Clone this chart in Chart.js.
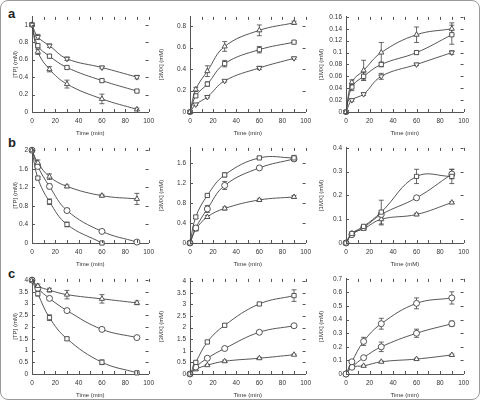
<!DOCTYPE html>
<html>
<head>
<meta charset="utf-8">
<script src="https://cdn.jsdelivr.net/npm/chart.js@4.4.1/dist/chart.umd.min.js"></script>
<style>
  html, body { margin: 0; padding: 0; background: #fff; }
  #fig { position: relative; width: 480px; height: 400px; overflow: hidden; }
  #frame { position: absolute; left: 0; top: 0; width: 478px; height: 398px; border: 1px solid #9a9a9a; border-radius: 8px; }
  canvas { position: absolute; }
  .lab { position: absolute; font: bold 13px "Liberation Sans", Arial, sans-serif; color: #222; }
</style>
</head>
<body>
<div id="fig">
  <div id="frame"></div>
  <div class="lab" style="left:8px;top:6px">a</div>
  <div class="lab" style="left:8px;top:135px">b</div>
  <div class="lab" style="left:8px;top:266px">c</div>
</div>
<script>
// 共通の時間軸 (min)
const times = [0, 5, 15, 30, 60, 90];

// a: [TP] / [3MX] / [1MX]
const aTP_dn = [1, 0.86, 0.76, 0.61, 0.51, 0.40];
const aTP_sq = [1, 0.76, 0.64, 0.51, 0.36, 0.24];
const aTP_up = [1, 0.69, 0.49, 0.32, 0.15, 0.03];
const aTP_dnErr = [0, 0.03, 0.02, 0.02, 0.015, 0.02];
const aTP_sqErr = [0, 0.02, 0.02, 0.015, 0.015, 0.015];
const aTP_upErr = [0, 0.03, 0.03, 0.045, 0.055, 0.015];

const a3MX_up = [0, 0.21, 0.38, 0.61, 0.76, 0.83];
const a3MX_sq = [0, 0.15, 0.26, 0.45, 0.58, 0.65];
const a3MX_dn = [0, 0.07, 0.14, 0.29, 0.41, 0.50];
const a3MX_upErr = [0, 0.02, 0.05, 0.045, 0.05, 0.015];
const a3MX_sqErr = [0, 0.015, 0.02, 0.03, 0.03, 0.01];
const a3MX_dnErr = [0, 0.01, 0.01, 0.01, 0.015, 0.01];

const a1MX_up = [0, 0.05, 0.07, 0.10, 0.13, 0.14];
const a1MX_sq = [0, 0.042, 0.06, 0.08, 0.10, 0.13];
const a1MX_dn = [0, 0.02, 0.03, 0.06, 0.08, 0.10];
const a1MX_upErr = [0, 0.004, 0.017, 0.017, 0.013, 0.01];
const a1MX_sqErr = [0, 0.006, 0.006, 0.004, 0.003, 0.016];
const a1MX_dnErr = [0, 0.002, 0.002, 0.005, 0.002, 0.003];

// b
const bTP_up = [2, 1.73, 1.43, 1.22, 1.02, 0.95];
const bTP_ci = [2, 1.65, 1.22, 0.70, 0.25, 0.02];
const bTP_sq = [2, 1.40, 0.89, 0.40, 0.00, null];
const bTP_upErr = [0, 0.06, 0.06, 0.03, 0.03, 0.12];
const bTP_ciErr = [0, 0.03, 0.05, 0.04, 0.02, 0.02];
const bTP_sqErr = [0, 0.03, 0.06, 0.05, 0.02, 0];

const b3MX_sq = [0, 0.52, 0.95, 1.36, 1.70, 1.70];
const b3MX_ci = [0, 0.30, 0.68, 1.15, 1.50, 1.68];
const b3MX_up = [0, 0.27, 0.52, 0.69, 0.86, 0.92];
const b3MX_sqErr = [0, 0.03, 0.03, 0.04, 0.03, 0.05];
const b3MX_ciErr = [0, 0.03, 0.07, 0.08, 0.03, 0.04];
const b3MX_upErr = [0, 0.02, 0.03, 0.03, 0.02, 0.03];

const b1MX_sq = [0, 0.04, 0.07, 0.13, 0.28, 0.28];
const b1MX_ci = [0, 0.035, 0.065, 0.12, 0.19, 0.29];
const b1MX_up = [0, 0.04, 0.06, 0.10, 0.12, 0.17];
const b1MX_sqErr = [0, 0.005, 0.006, 0.05, 0.03, 0.03];
const b1MX_ciErr = [0, 0.004, 0.005, 0.01, 0.006, 0.02];
const b1MX_upErr = [0, 0.003, 0.004, 0.024, 0.005, 0.004];

// c
const cTP_up = [4, 3.75, 3.57, 3.38, 3.20, 3.03];
const cTP_ci = [4, 3.65, 3.22, 2.70, 1.90, 1.55];
const cTP_sq = [4, 3.42, 2.40, 1.50, 0.50, 0.05];
const cTP_upErr = [0, 0.08, 0.08, 0.18, 0.18, 0.08];
const cTP_ciErr = [0, 0.06, 0.06, 0.05, 0.05, 0.05];
const cTP_sqErr = [0, 0.1, 0.12, 0.06, 0.1, 0.03];

const c3MX_sq = [0, 0.50, 1.38, 2.10, 3.02, 3.38];
const c3MX_ci = [0, 0.30, 0.68, 1.10, 1.80, 2.08];
const c3MX_up = [0, 0.20, 0.38, 0.55, 0.68, 0.83];
const c3MX_sqErr = [0, 0.05, 0.06, 0.06, 0.06, 0.25];
const c3MX_ciErr = [0, 0.03, 0.05, 0.05, 0.06, 0.05];
const c3MX_upErr = [0, 0.02, 0.03, 0.05, 0.04, 0.03];

const c1MX_sq = [0, 0.09, 0.24, 0.37, 0.52, 0.56];
const c1MX_ci = [0, 0.05, 0.12, 0.20, 0.30, 0.37];
const c1MX_up = [0, 0.05, 0.06, 0.09, 0.11, 0.14];
const c1MX_sqErr = [0, 0.01, 0.03, 0.04, 0.04, 0.045];
const c1MX_ciErr = [0, 0.006, 0.01, 0.035, 0.03, 0.02];
const c1MX_upErr = [0, 0.003, 0.004, 0.005, 0.005, 0.006];

// 軸ラベル
const xLabels = ["0", "20", "40", "60", "80", "100"];
const yTitles = ["[TP] (mM)", "[3MX] (mM)", "[1MX] (mM)"];

// パネル位置 (プロット枠のピクセル)
const cols = [
  { left: 32, right: 153, yw: 22 },
  { left: 190, right: 310, yw: 34 },
  { left: 346, right: 468, yw: 30 }
];
const rows = [
  { top: 13, bottom: 112 },
  { top: 144, bottom: 243 },
  { top: 275, bottom: 374 }
];

const UP = { style: "triangle", rot: 0 };
const DN = { style: "triangle", rot: 180 };
const SQ = { style: "rect", rot: 0 };
const CI = { style: "circle", rot: 0 };

const panels = [
  { r: 0, c: 0, ymax: 1.09, step: 0.2, xt: "Time (min)", s: [[aTP_dn, aTP_dnErr, DN], [aTP_sq, aTP_sqErr, SQ], [aTP_up, aTP_upErr, UP]] },
  { r: 0, c: 1, ymax: 0.885, step: 0.2, xt: "Time (min)", s: [[a3MX_up, a3MX_upErr, UP], [a3MX_sq, a3MX_sqErr, SQ], [a3MX_dn, a3MX_dnErr, DN]] },
  { r: 0, c: 2, ymax: 0.16, step: 0.02, xt: "Time (min)", s: [[a1MX_up, a1MX_upErr, UP], [a1MX_sq, a1MX_sqErr, SQ], [a1MX_dn, a1MX_dnErr, DN]] },
  { r: 1, c: 0, ymax: 2.05, step: 0.2, xt: "Time (min)", s: [[bTP_up, bTP_upErr, UP], [bTP_ci, bTP_ciErr, CI], [bTP_sq, bTP_sqErr, SQ]] },
  { r: 1, c: 1, ymax: 1.9, step: 0.2, xt: "Time (min)", s: [[b3MX_sq, b3MX_sqErr, SQ], [b3MX_ci, b3MX_ciErr, CI], [b3MX_up, b3MX_upErr, UP]] },
  { r: 1, c: 2, ymax: 0.4, step: 0.1, xt: "Time (mM)", s: [[b1MX_sq, b1MX_sqErr, SQ], [b1MX_ci, b1MX_ciErr, CI], [b1MX_up, b1MX_upErr, UP]] },
  { r: 2, c: 0, ymax: 4.05, step: 0.5, xt: "Time (min)", s: [[cTP_up, cTP_upErr, UP], [cTP_ci, cTP_ciErr, CI], [cTP_sq, cTP_sqErr, SQ]] },
  { r: 2, c: 1, ymax: 4.1, step: 0.5, xt: "Time (min)", s: [[c3MX_sq, c3MX_sqErr, SQ], [c3MX_ci, c3MX_ciErr, CI], [c3MX_up, c3MX_upErr, UP]] },
  { r: 2, c: 2, ymax: 0.7, step: 0.1, xt: "Time (min)", s: [[c1MX_sq, c1MX_sqErr, CI], [c1MX_ci, c1MX_ciErr, CI], [c1MX_up, c1MX_upErr, UP]] }
];

const INK = "#444";
const FONT = "'Liberation Sans', Arial, sans-serif";

// 内向きの目盛り (四辺)
const inTicks = {
  id: "inTicks",
  afterDraw(chart) {
    const { ctx, chartArea: a, scales: { x, y } } = chart;
    ctx.save();
    ctx.strokeStyle = "#555";
    ctx.lineWidth = 1;
    ctx.beginPath();
    x.ticks.forEach(t => {
      const px = Math.round(x.getPixelForValue(t.value)) + 0.5;
      ctx.moveTo(px, a.bottom); ctx.lineTo(px, a.bottom - 3);
      ctx.moveTo(px, a.top); ctx.lineTo(px, a.top + 3);
    });
    y.ticks.forEach(t => {
      const py = Math.round(y.getPixelForValue(t.value)) + 0.5;
      ctx.moveTo(a.left, py); ctx.lineTo(a.left + 3, py);
      ctx.moveTo(a.right, py); ctx.lineTo(a.right - 3, py);
    });
    ctx.stroke();
    ctx.restore();
  }
};

// エラーバー
const errBars = {
  id: "errBars",
  beforeDatasetsDraw(chart) {
    const { ctx, scales: { x, y } } = chart;
    ctx.save();
    ctx.strokeStyle = INK;
    ctx.lineWidth = 0.8;
    ctx.beginPath();
    chart.data.datasets.forEach(ds => {
      ds.data.forEach((pt, i) => {
        const e = ds.err[i];
        if (!e || pt.y == null) return;
        const px = x.getPixelForValue(pt.x);
        const y1 = y.getPixelForValue(pt.y - e);
        const y2 = y.getPixelForValue(pt.y + e);
        ctx.moveTo(px, y1); ctx.lineTo(px, y2);
        ctx.moveTo(px - 2.5, y1); ctx.lineTo(px + 2.5, y1);
        ctx.moveTo(px - 2.5, y2); ctx.lineTo(px + 2.5, y2);
      });
    });
    ctx.stroke();
    ctx.restore();
  }
};

const fig = document.getElementById("fig");

panels.forEach(p => {
  const col = cols[p.c], row = rows[p.r];
  const w = col.right - col.left + col.yw + 6;
  const h = row.bottom - row.top + 4 + 28;
  const cv = document.createElement("canvas");
  cv.width = w; cv.height = h;
  cv.style.width = w + "px"; cv.style.height = h + "px";
  cv.style.left = (col.left - col.yw) + "px";
  cv.style.top = (row.top - 4) + "px";
  fig.appendChild(cv);

  new Chart(cv, {
    type: "line",
    data: {
      datasets: p.s.map(([vals, errs, m]) => ({
        data: times.map((t, i) => ({ x: t, y: vals[i] })),
        err: errs,
        borderColor: INK,
        borderWidth: 0.9,
        backgroundColor: "#fff",
        tension: 0.4,
        pointStyle: m.style,
        rotation: m.rot,
        pointRadius: 3,
        pointBorderWidth: 0.9,
        pointBorderColor: INK,
        pointBackgroundColor: "#fff",
        clip: false
      }))
    },
    options: {
      responsive: false,
      animation: false,
      devicePixelRatio: 1,
      layout: { padding: { top: 4, right: 6, left: 0, bottom: 0 } },
      plugins: { legend: { display: false }, tooltip: { enabled: false } },
      scales: {
        x: {
          type: "linear", min: 0, max: 100,
          afterFit: s => { s.height = 28; },
          grid: { display: false, drawTicks: false },
          border: { display: true, color: "#555", width: 1 },
          ticks: {
            stepSize: 10, autoSkip: false, maxRotation: 0, padding: 5,
            color: "#333", font: { family: FONT, size: 6.5 },
            callback: v => (v % 20 === 0 ? xLabels[v / 20] : "")
          },
          title: { display: true, text: p.xt, color: "#333", font: { family: FONT, size: 6 }, padding: { top: 2, bottom: 3 } }
        },
        y: {
          type: "linear", min: 0, max: p.ymax,
          afterFit: s => { s.width = col.yw; },
          grid: { display: false, drawTicks: false },
          border: { display: true, color: "#555", width: 1 },
          ticks: {
            stepSize: p.step, includeBounds: false, padding: 4,
            color: "#333", font: { family: FONT, size: 6.5 },
            callback: v => String(Math.round(v * 1000) / 1000)
          },
          title: { display: true, text: yTitles[p.c], color: "#333", font: { family: FONT, size: 6 }, padding: { top: 2, bottom: 2 } }
        }
      }
    },
    plugins: [inTicks, errBars]
  });
});
</script>
</body>
</html>
